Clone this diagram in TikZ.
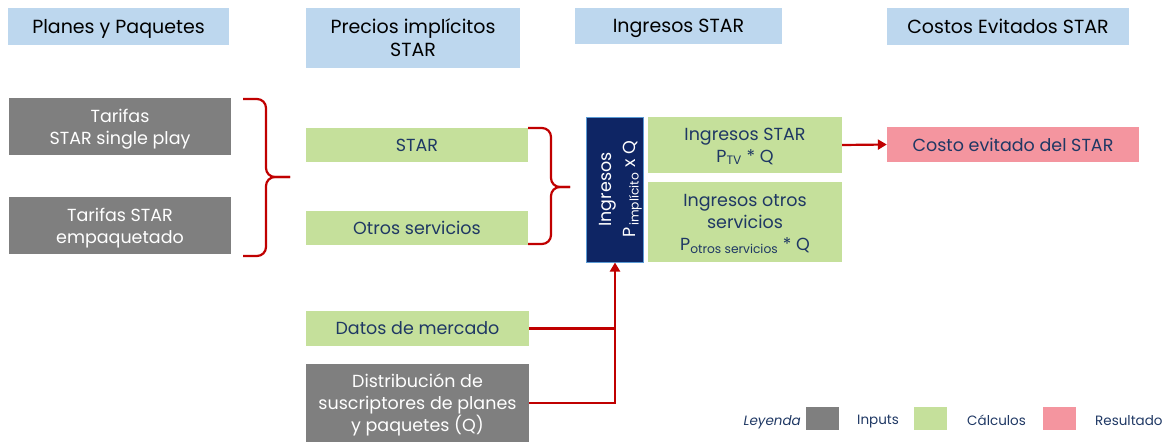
\documentclass[tikz,border=0pt]{standalone}
\usepackage{fontspec}
\setmainfont{Poppins}
\usetikzlibrary{arrows.meta}
\definecolor{hdr}{HTML}{BDD7EE}
\definecolor{inp}{HTML}{7F7F7F}
\definecolor{calc}{HTML}{C5E09B}
\definecolor{res}{HTML}{F4959F}
\definecolor{navy}{HTML}{0E2564}
\definecolor{navyb}{HTML}{5B9BD5}
\definecolor{txt}{HTML}{1F3864}
\definecolor{redl}{HTML}{C00000}
\tikzset{
  box/.style={draw=none, inner sep=0pt, align=center, text depth=0pt},
  hdrbox/.style={box, fill=hdr, text=black, font=\fontsize{19}{23}\selectfont},
  inpbox/.style={box, fill=inp, text=white, font=\fontsize{17.5}{22}\selectfont},
  calcbox/.style={box, fill=calc, text=txt, font=\fontsize{17.5}{22}\selectfont},
  resbox/.style={box, fill=res, text=txt, font=\fontsize{17.5}{22}\selectfont},
  brace/.style={draw=redl, line width=2.2pt, rounded corners=9pt},
  conn/.style={draw=redl, line width=2.2pt},
  legsq/.style={minimum width=34pt, minimum height=24pt, inner sep=0pt, draw=white, line width=0.5pt},
  legtxt/.style={text=txt, font=\fontsize{13.5}{16}\selectfont, inner sep=0pt, text depth=0pt}
}
\begin{document}
\begin{tikzpicture}[x=1pt,y=-1pt]
\useasboundingbox (0,0) rectangle (1171,442);
% headers
\node[hdrbox, minimum width=221pt, minimum height=37pt] (h1) at (118.5,26.5) {Planes y Paquetes};
\node[hdrbox, minimum width=214pt, minimum height=60pt] (h2) at (413,38) {Precios implícitos\\STAR};
\node[hdrbox, minimum width=207pt, minimum height=36pt] (h3) at (678.5,25.5) {Ingresos STAR};
\node[hdrbox, minimum width=242pt, minimum height=37pt] (h4) at (1008,26.5) {Costos Evitados STAR};
% inputs
\node[inpbox, minimum width=222pt, minimum height=57pt] (t1) at (120,126.5) {Tarifas\\STAR single play};
\node[inpbox, minimum width=222pt, minimum height=57pt] (t2) at (120,225.5) {Tarifas STAR\\empaquetado};
\node[inpbox, minimum width=223pt, minimum height=78pt] (dist) at (417.5,403) {Distribución de\\suscriptores de planes\\y paquetes (Q)};
% precios
\node[calcbox, minimum width=222pt, minimum height=34pt] (star) at (417,145) {STAR};
\node[calcbox, minimum width=222pt, minimum height=34pt] (otros) at (417,227.5) {Otros servicios};
\node[calcbox, minimum width=223pt, minimum height=35pt] (datos) at (417.5,328.5) {Datos de mercado};
% ingresos
\node[fill=navy, draw=navyb, line width=1pt, minimum width=57pt, minimum height=145pt, inner sep=0pt] (ing) at (615,189.5) {};
\node[rotate=90, text=white, align=center, text depth=0pt, font=\fontsize{17.5}{24}\selectfont, inner sep=0pt] (ingt) at ([xshift=2pt]ing.center) {Ingresos\\P\textsubscript{\,implícito} x Q};
\node[calcbox, minimum width=194pt, minimum height=56pt] (ist) at (745,145) {Ingresos STAR\\P\textsubscript{TV} * Q};
\node[calcbox, minimum width=194pt, minimum height=80pt] (iot) at (745,222) {Ingresos otros\\servicios\\P\textsubscript{otros servicios} * Q};
% resultado
\node[resbox, minimum width=252pt, minimum height=35pt] (ce) at (1013,144.5) {Costo evitado del STAR};
% braces
\coordinate (b1t) at (243,99);
\coordinate (b1b) at (243,256);
\coordinate (b1p) at (290,177);
\draw[brace] (b1t) -- (266,99) -- (266,177) -- (b1p);
\draw[brace] (b1b) -- (266,256) -- (266,177) -- (b1p);
\coordinate (b2t) at (528,128);
\coordinate (b2b) at (528,244);
\coordinate (b2p) at (570,187);
\draw[brace] (b2t) -- (551,128) -- (551,187) -- (b2p);
\draw[brace] (b2b) -- (551,244) -- (551,187) -- (b2p);
% connectors
\draw[conn, -{Triangle[length=9pt,width=10pt]}] (ist.east) -- (ce.west);
\draw[conn] (datos.east) -- (615,328.5);
\draw[conn, -{Triangle[length=9pt,width=10pt]}] (dist.east |- 0,403) -- (615,403) -- (ing.south);
% legend
\node[legtxt, font=\fontsize{13.5}{16}\selectfont\itshape, anchor=east] (leg) at (801,420) {Leyenda};
\node[legsq, fill=inp] (lg1) at (822.5,418) {};
\node[legtxt, anchor=west] (lt1) at (857,420) {Inputs};
\node[legsq, fill=calc] (lg2) at (930,418) {};
\node[legtxt, anchor=west] (lt2) at (967,420) {Cálculos};
\node[legsq, fill=res] (lg3) at (1059,418) {};
\node[legtxt, anchor=west] (lt3) at (1095,420) {Resultado};
\end{tikzpicture}
\end{document}
